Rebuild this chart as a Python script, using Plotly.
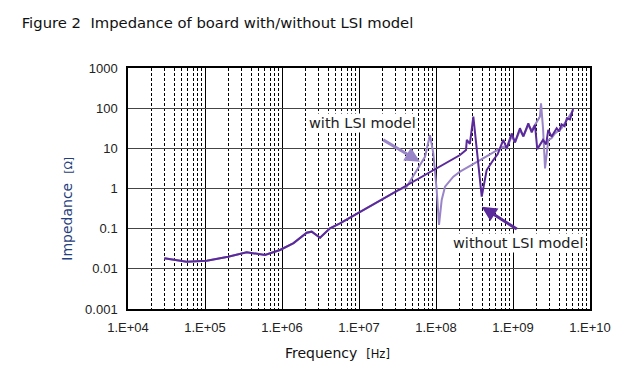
import numpy as np
import plotly.graph_objects as go

# ---- data (log10 of frequency [Hz], log10 of impedance [ohm]) ----
without_logf = [4.472, 4.762, 5.022, 5.30, 5.542, 5.65, 5.779, 5.974, 6.15, 6.321, 6.386, 6.494,
                6.623, 6.753, 7.0, 7.5, 8.0, 8.312, 8.39, 8.40, 8.44, 8.485, 8.594, 8.658, 8.744,
                8.80, 8.874, 8.918, 8.983, 9.026, 9.09, 9.134, 9.199, 9.243, 9.286, 9.315, 9.39,
                9.43, 9.458, 9.50, 9.567, 9.60, 9.63, 9.67, 9.70, 9.74, 9.78]
without_logz = [-1.737, -1.822, -1.797, -1.70, -1.588, -1.61, -1.655, -1.531, -1.36, -1.10, -1.075, -1.225,
                -0.99, -0.866, -0.597, -0.051, 0.494, 0.834, 0.96, 1.21, 1.11, 1.79, -0.204, 0.46, 0.71,
                0.85, 1.21, 1.00, 1.37, 1.15, 1.50, 1.30, 1.62, 1.40, 1.58, 0.98, 1.21,
                1.10, 1.46, 1.29, 1.50, 1.42, 1.60, 1.55, 1.75, 1.72, 1.98]

with_logf = [4.472, 4.762, 5.022, 5.30, 5.542, 5.65, 5.779, 5.974, 6.15, 6.321, 6.386, 6.494,
             6.623, 6.753, 7.0, 7.5, 7.619, 7.749, 7.857, 7.922, 7.965, 8.009, 8.039, 8.074, 8.117,
             8.225, 8.312, 8.60, 8.874, 8.918, 8.983, 9.026, 9.09, 9.134, 9.199, 9.243, 9.307,
             9.35, 9.364, 9.39, 9.416, 9.458, 9.50, 9.545, 9.63, 9.70, 9.74, 9.78]
with_logz = [-1.737, -1.822, -1.797, -1.70, -1.588, -1.61, -1.655, -1.531, -1.36, -1.10, -1.075, -1.225,
             -0.99, -0.866, -0.597, -0.051, 0.045, 0.461, 0.79, 1.33, 0.876, -0.037, -0.908, -0.286, 0.045,
             0.294, 0.42, 0.74, 1.04, 1.00, 1.30, 1.15, 1.45, 1.30, 1.58, 1.45, 1.66,
             1.79, 2.12, 1.50, 0.50, 1.21, 1.25, 1.37, 1.50, 1.70, 1.83, 1.95]

x_tickvals = [1e4, 1e5, 1e6, 1e7, 1e8, 1e9, 1e10]
x_ticktext = ["1.E+04", "1.E+05", "1.E+06", "1.E+07", "1.E+08", "1.E+09", "1.E+10"]
y_tickvals = [1e3, 1e2, 1e1, 1, 0.1, 0.01, 0.001]
y_ticktext = ["1000", "100", "10", "1", "0.1", "0.01", "0.001"]

DARK = "#5B2A9A"
LIGHT = "#9A85C8"

f_without = [10 ** v for v in without_logf]
z_without = [10 ** v for v in without_logz]
f_with = [10 ** v for v in with_logf]
z_with = [10 ** v for v in with_logz]

fig = go.Figure()
fig.add_trace(go.Scatter(x=f_with, y=z_with, mode="lines", name="with LSI model",
                         line=dict(color=LIGHT, width=2)))
fig.add_trace(go.Scatter(x=f_without, y=z_without, mode="lines", name="without LSI model",
                         line=dict(color=DARK, width=2)))

L, R, T, B = 128, 30, 68, 61
W, H = 620, 370
PW, PH = W - L - R, H - T - B


def px(xp):
    return (xp - L) / PW


def py(yp):
    return (H - B - yp) / PH


tickfont = dict(family="Arial, Liberation Sans, sans-serif", size=13, color="#222222")

fig.update_layout(
    width=W, height=H,
    margin=dict(l=L, r=R, t=T, b=B, pad=0),
    paper_bgcolor="white", plot_bgcolor="white",
    showlegend=False,
    title=dict(text="Figure 2  Impedance of board with/without LSI model",
               x=21.7 / W, xanchor="left", y=1 - 22.5 / H, yanchor="middle",
               font=dict(family="DejaVu Sans", size=14.8, color="#111111")),
    xaxis=dict(type="log", range=[4, 10], tickvals=x_tickvals, ticktext=x_ticktext,
               tickfont=tickfont, ticks="", showline=True, linecolor="black", linewidth=1.5,
               mirror=True, showgrid=True, gridcolor="black", gridwidth=1,
               minor=dict(dtick="D1", showgrid=True, gridcolor="black", griddash="3px,2px",
                          gridwidth=1, ticks=""),
               zeroline=False, ticklabelstandoff=6, automargin=False),
    yaxis=dict(type="log", range=[-3, 3], tickvals=y_tickvals, ticktext=y_ticktext,
               tickfont=tickfont, ticks="", showline=True, linecolor="black", linewidth=1.5,
               mirror=True, showgrid=True, gridcolor="#444444", gridwidth=1,
               zeroline=False, ticklabelstandoff=6, automargin=False),
)

common = dict(xref="paper", yref="paper", xanchor="center", yanchor="middle")
annos = [
    dict(text="Impedance  <span style='font-size:11px'>[Ω]</span>", x=px(66.7), y=py(209),
         showarrow=False, textangle=-90,
         font=dict(family="DejaVu Sans", size=14, color="#1F3F80"), **common),
    dict(text="Frequency  <span style='font-size:11.5px'>[Hz]</span>", x=px(337.5), y=py(352.5),
         showarrow=False,
         font=dict(family="DejaVu Sans", size=14, color="#111111"), **common),
    # arrows
    dict(text="", x=px(420), y=py(161.7), showarrow=True,
         ax=381.7 - 420, ay=139 - 161.7, axref="pixel", ayref="pixel",
         arrowhead=2, arrowsize=1, arrowwidth=3, arrowcolor=LIGHT, **common),
    dict(text="", x=px(481.7), y=py(206.7), showarrow=True,
         ax=518.3 - 481.7, ay=230 - 206.7, axref="pixel", ayref="pixel",
         arrowhead=2, arrowsize=1, arrowwidth=3, arrowcolor=DARK, **common),
    dict(text="with LSI model", x=px(362.5), y=py(122.5),
         showarrow=False, bgcolor="white",
         font=dict(family="DejaVu Sans", size=14.5, color="#222222"), **common),
    dict(text="without LSI model", x=px(518.3), y=py(242.5),
         showarrow=False, bgcolor="white",
         font=dict(family="DejaVu Sans", size=14.5, color="#222222"), **common),
]
fig.update_layout(annotations=annos)

fig.write_html("out.html", config={"displayModeBar": False},
               post_script="document.body.style.margin='0px';document.body.style.padding='0px';")
